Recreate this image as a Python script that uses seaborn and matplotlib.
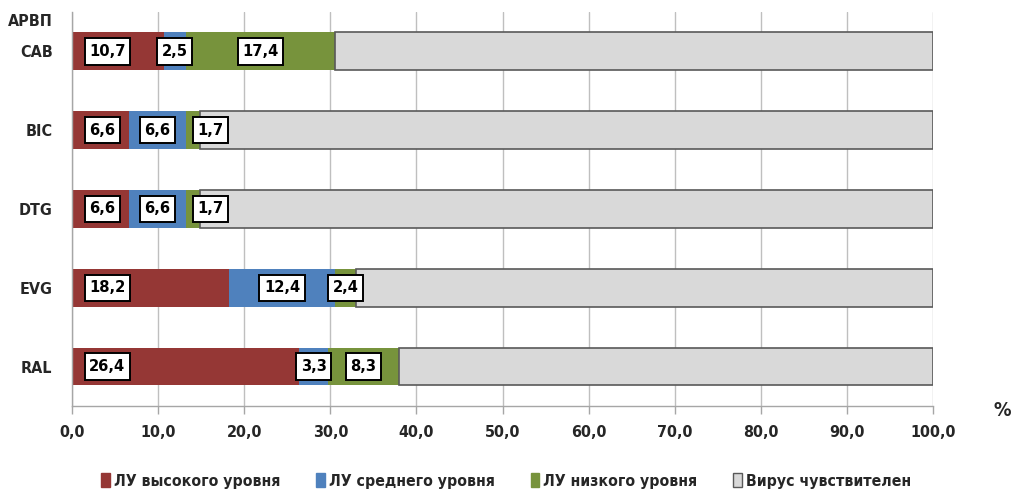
import numpy as np
import pandas as pd
import matplotlib
matplotlib.use("Agg")
import matplotlib.pyplot as plt
import seaborn as sns
from matplotlib.patches import Patch

# Drug names and resistance shares, %
drugs = ["CAB", "BIC", "DTG", "EVG", "RAL"]
high = [10.7, 6.6, 6.6, 18.2, 26.4]
medium = [2.5, 6.6, 6.6, 12.4, 3.3]
low = [17.4, 1.7, 1.7, 2.4, 8.3]
sensitive = [round(100 - h - m - l, 1) for h, m, l in zip(high, medium, low)]

series_names = ["ЛУ высокого уровня", "ЛУ среднего уровня",
                "ЛУ низкого уровня", "Вирус чувствителен"]
series_values = [high, medium, low, sensitive]
colors = ["#953735", "#4F81BD", "#77933C", "#D9D9D9"]
x_ticks = [0, 10, 20, 30, 40, 50, 60, 70, 80, 90, 100]

# small horizontal nudges (in %) for labels that sit beside a thin segment
label_nudge = {(2, 1): 2.0, (2, 2): 2.0}

sns.set_theme(style="white")
plt.rcParams["font.family"] = ["DejaVu Sans"]
plt.rcParams["font.stretch"] = "condensed"
TXT = "#262626"

fig = plt.figure(figsize=(10.12, 4.93), dpi=100)
ax = fig.add_axes([0.0711, 0.1765, 0.851, 0.7992])

left = np.zeros(len(drugs))
for s, (name, vals, col) in enumerate(zip(series_names, series_values, colors)):
    df = pd.DataFrame({"drug": drugs, "value": vals})
    n_before = len(ax.patches)
    sns.barplot(data=df, x="value", y="drug", orient="h", order=drugs,
                color=col, saturation=1, width=0.48, ax=ax, errorbar=None)
    new = ax.patches[n_before:]
    for i, p in enumerate(new):
        p.set_x(left[i])
        p.set_width(vals[i])
        p.set_facecolor(col)
        if s == 3:
            p.set_edgecolor("#595959")
            p.set_linewidth(1.2)
        else:
            p.set_edgecolor("none")
    # value labels for the resistance segments
    if s < 3:
        for i, v in enumerate(vals):
            if s == 0:
                x, ha = 2.0, "left"
            else:
                x, ha = left[i] + v / 2 + label_nudge.get((s, i), 0.0), "center"
            ax.text(x, i, f"{v:.1f}".replace(".", ","), ha=ha, va="center",
                    fontsize=11.8, fontweight="bold", fontstretch="condensed",
                    color="black", zorder=5,
                    bbox=dict(boxstyle="square,pad=0.28", mutation_aspect=1.25,
                              fc="white", ec="black", lw=1.4))
    left += np.array(vals)

ax.set_xlim(0, 100)
ax.set_ylim(4.5, -0.5)
ax.set_xticks(x_ticks)
ax.set_xticklabels([f"{t:.1f}".replace(".", ",") for t in x_ticks],
                   fontsize=11.5, fontweight="bold", color=TXT)
ax.set_yticks(range(len(drugs)))
ax.set_yticklabels(drugs, fontsize=11.5, fontweight="bold", color=TXT)
ax.tick_params(axis="x", length=6, width=1, color="#A6A6A6", pad=8, bottom=True)
ax.tick_params(axis="y", length=0, pad=14)
ax.set_xlabel("")
ax.set_ylabel("")

ax.grid(axis="x", color="#BFBFBF", lw=1)
ax.set_axisbelow(True)
for side in ["top", "right"]:
    ax.spines[side].set_visible(False)
for side in ["left", "bottom"]:
    ax.spines[side].set_color("#A6A6A6")
    ax.spines[side].set_linewidth(1)

fig.text(53 / 1012, 1 - 22 / 493, "АРВП", ha="right", va="center",
         fontsize=11.5, fontweight="bold", color=TXT)
fig.text(1002 / 1012, 1 - 411 / 493, "%", ha="center", va="center",
         fontsize=14, fontweight="bold", color=TXT)

handles = [Patch(facecolor=c, edgecolor=("#595959" if i == 3 else c), lw=1)
           for i, c in enumerate(colors)]
leg = fig.legend(handles, series_names, loc="center", ncol=4,
                 bbox_to_anchor=(0.5, 1 - 481 / 493), frameon=False,
                 prop={"size": 11.3, "weight": "bold", "stretch": "condensed"},
                 handlelength=0.55, handleheight=1.0, handletextpad=0.25,
                 columnspacing=2.3)
for t in leg.get_texts():
    t.set_color(TXT)

fig.savefig("out.png", dpi=100)
